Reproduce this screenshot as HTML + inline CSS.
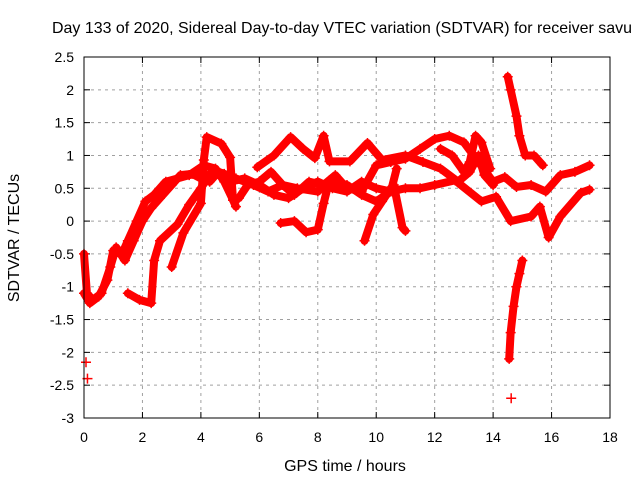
<!DOCTYPE html>
<html><head><meta charset="utf-8"><style>
body{margin:0;background:#fff}
svg{display:block;font-family:"Liberation Sans",sans-serif}
</style></head><body>
<svg id="c" width="640" height="480" viewBox="0 0 640 480">
<text x="342" y="33" text-anchor="middle" font-size="16" textLength="580" lengthAdjust="spacingAndGlyphs">Day 133 of 2020, Sidereal Day-to-day VTEC variation (SDTVAR) for receiver savu</text>
<g id="grid"></g>
<g id="ticks"></g>
<g id="data"></g>
<rect x="84" y="57" width="526" height="361" fill="none" stroke="#000" stroke-width="1"/>
<text x="345" y="471" text-anchor="middle" font-size="16">GPS time / hours</text>
<text x="0" y="0" transform="translate(19,238) rotate(-90)" text-anchor="middle" font-size="16">SDTVAR / TECUs</text>
</svg>
<script>
const xTicks=[0,2,4,6,8,10,12,14,16,18];
const yTicks=[2.5,2,1.5,1,0.5,0,-0.5,-1,-1.5,-2,-2.5,-3];
const trace1=[[0,-0.5],[0.1,-1.1],[0.3,-1.2],[0.6,-1.1],[0.9,-0.7],[1.1,-0.4],[1.4,-0.6],[1.7,-0.3],[2,0],[2.3,0.2],[2.6,0.35],[3,0.55],[3.3,0.7],[3.7,0.72],[4,0.65],[4.3,0.6],[4.6,0.75],[5,0.6],[5.5,0.65],[6,0.55],[6.5,0.4],[7,0.35],[7.5,0.5],[8,0.6],[8.5,0.5],[9,0.45],[9.5,0.6],[10,0.5],[10.5,0.45],[11,0.5],[11.5,0.5],[12,0.55],[12.7,0.62],[13.6,0.3],[14.1,0.37],[14.6,0.0],[15.3,0.07],[15.6,0.22],[15.9,-0.25],[16.3,0.07],[17,0.43],[17.3,0.48]];
const trace2=[[0,-1.1],[0.2,-1.25],[0.5,-1.15],[0.8,-0.9],[1,-0.45],[1.3,-0.5],[1.5,-0.3],[1.8,0],[2.1,0.3],[2.4,0.4],[2.8,0.6],[3.2,0.65],[3.6,0.7],[4.1,0.85],[4.5,0.8],[4.8,0.6],[5.1,0.32],[5.3,0.35],[5.6,0.55],[6,0.6],[6.4,0.75],[6.8,0.55],[7.2,0.4],[7.7,0.6],[8.2,0.55],[8.6,0.7],[9,0.5],[9.5,0.45],[10,0.85],[10.5,0.9],[11,0.95],[11.5,1.1],[12,1.25],[12.5,1.3],[13,1.2],[13.5,0.9],[14,0.6],[14.4,0.67],[14.8,0.52],[15.3,0.55],[15.8,0.45],[16.3,0.7],[16.8,0.75],[17.3,0.85]];
const trace3=[[1.5,-1.1],[1.9,-1.2],[2.3,-1.25],[2.4,-0.6],[2.6,-0.3],[3.2,-0.05],[3.6,0.25],[4,0.5],[4.4,0.78],[4.8,0.72],[5.2,0.65],[5.8,0.55],[6.3,0.45],[6.8,0.55],[7.3,0.5],[8,0.45],[8.4,0.62],[9,0.55],[9.5,0.4],[10,0.3],[10.5,0.45],[10.7,0.8]];
const trace4=[[3,-0.7],[3.4,-0.18],[4,0.27],[4.1,0.93],[4.2,1.28],[4.7,1.18],[5,0.97],[5.1,0.32],[5.2,0.22]];
const trace5=[[5.93,0.82],[6.5,1.0],[7.07,1.28],[7.5,1.1],[7.9,0.96],[8.2,1.3],[8.4,0.91],[9.1,0.91],[9.7,1.19],[10.2,0.93],[11,1.0],[11.6,0.9],[12.2,0.8],[12.8,0.6],[13.2,0.75],[13.5,1.0],[13.7,0.7],[14,0.55]];
const trace6=[[6.73,-0.03],[7.2,0.0],[7.6,-0.17],[8.0,-0.13],[8.2,0.27],[8.4,0.62],[8.8,0.55]];
const trace7=[[9.6,-0.3],[9.9,0.1],[10.2,0.3],[10.5,0.5]];
const trace8=[[10.6,0.55],[10.9,-0.1],[11.0,-0.15]];
const trace9=[[12.2,1.1],[12.6,1.0],[13,0.75],[13.2,0.9],[13.4,1.3],[13.6,1.2],[13.9,0.8]];
const trace10=[[14.5,2.2],[14.6,2.0],[14.8,1.6],[14.9,1.3],[15.1,1.0],[15.4,1.0],[15.7,0.85]];
const trace11=[[14.55,-2.1],[14.6,-1.7],[14.7,-1.3],[14.8,-1.0],[14.9,-0.8],[15.0,-0.6]];
const trace12=[[0,-2.15],[0.05,-2.4],[14.55,-2.7]];
const traces=[trace1,trace2,trace3,trace4,trace5,trace6,trace7,trace8,trace9,trace10,trace11];
const X=h=>84+h*526/18, Y=v=>57+(2.5-v)*361/5.5;
const NS='http://www.w3.org/2000/svg';
const g=document.getElementById('grid'),t=document.getElementById('ticks'),d=document.getElementById('data');
function mk(tag,a,p){const e=document.createElementNS(NS,tag);for(const k in a)e.setAttribute(k,a[k]);p.appendChild(e);return e;}
xTicks.forEach(v=>{const x=X(v);
 if(v>0&&v<18){const l=mk('line',{x1:x,y1:57,x2:x,y2:418,stroke:'#a0a0a0','stroke-dasharray':'3,4'},g);
 
 }
 mk('line',{x1:x,y1:418,x2:x,y2:412,stroke:'#000'},t);mk('line',{x1:x,y1:57,x2:x,y2:63,stroke:'#000'},t);
 const tx=mk('text',{x:x,y:442,'text-anchor':'middle','font-size':'14'},t);tx.textContent=v;
 
 });
yTicks.forEach(v=>{const y=Y(v);
 if(v<2.5&&v>-3){const l=mk('line',{x1:84,y1:y,x2:610,y2:y,stroke:'#a0a0a0','stroke-dasharray':'3,4'},g);
 
 }
 mk('line',{x1:84,y1:y,x2:90,y2:y,stroke:'#000'},t);mk('line',{x1:610,y1:y,x2:604,y2:y,stroke:'#000'},t);
 const tx=mk('text',{x:74,y:y+5,'text-anchor':'end','font-size':'14'},t);tx.textContent=v;
 
 });
function plus(x,y){mk('path',{d:`M${x-5} ${y}H${x+5}M${x} ${y-5}V${y+5}`,stroke:'#f00','stroke-width':1.5},d);}
traces.forEach((tr,i)=>{
 const pl=mk('polyline',{points:tr.map(p=>X(p[0])+','+Y(p[1])).join(' '),fill:'none',stroke:'#f00','stroke-width':8,'stroke-linejoin':'round','stroke-linecap':'round'},d);
 
 
 tr.forEach(p=>plus(X(p[0]),Y(p[1])));});
trace12.forEach(p=>plus(X(p[0])+2,Y(p[1])));
</script>
</body></html>
